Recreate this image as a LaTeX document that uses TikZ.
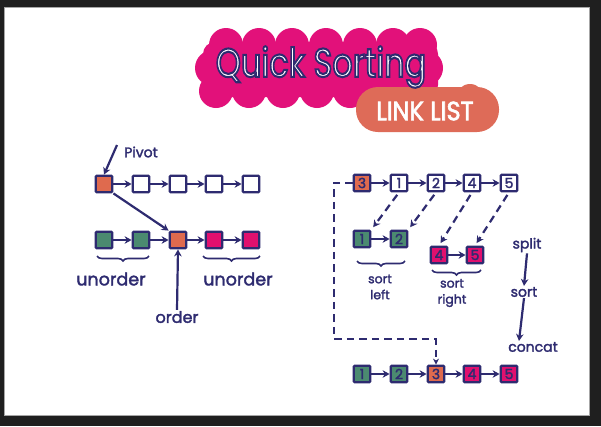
\documentclass[tikz,border=0pt]{standalone}
\usepackage{fontspec}
\newfontfamily\hand{Poppins}[FakeBold=2]
\newfontfamily\titlehand{Poppins}
\newfontfamily\subhand{Poppins}[FakeBold=2.5]
\usetikzlibrary{arrows.meta,decorations.pathreplacing,calc}
\definecolor{ink}{RGB}{46,43,112}
\definecolor{orangeC}{RGB}{223,106,78}
\definecolor{greenC}{RGB}{75,138,112}
\definecolor{magC}{RGB}{225,16,110}
\definecolor{titleM}{RGB}{226,17,122}
\definecolor{salmonC}{RGB}{222,107,88}
\definecolor{frameC}{RGB}{31,31,31}
\begin{document}
\begin{tikzpicture}[x=1pt,y=-1pt,
  box/.style={draw=ink,line width=2.3pt,minimum size=16.5pt,inner sep=0pt,rounded corners=1pt,
    font=\hand\fontsize{14}{14}\selectfont,text=ink},
  wbox/.style={box,fill=white},
  obox/.style={box,fill=orangeC},
  gbox/.style={box,fill=greenC},
  mbox/.style={box,fill=magC},
  link/.style={draw=ink,line width=2.2pt,-{Stealth[length=7pt,width=7.5pt]}},
  dlink/.style={link,dash pattern=on 7.5pt off 5pt},
  lbl/.style={text=ink,inner sep=1pt,font=\hand\fontsize{14}{14}\selectfont},
  biglbl/.style={lbl,font=\hand\fontsize{17.5}{17.5}\selectfont},
  smlbl/.style={lbl,align=center,font=\hand\fontsize{12.5}{16}\selectfont},
  brc/.style={draw=ink,line width=1.6pt,decorate,decoration={brace,mirror,amplitude=5pt}},
]
\useasboundingbox (0,0) rectangle (601,426);
% frame
\fill[frameC] (0,0) rectangle (601,426);
\fill[white,draw=gray!70,line width=0.6pt] (4,7) rectangle (589,415);

% title cloud
\begin{scope}[fill=titleM]
  \fill[rounded corners=12pt] (203,42) rectangle (438,97);
  \foreach \cx in {226,259,292,326,360,393,420} \fill (\cx,45) circle (17);
  \foreach \cx in {216,249,283,317,350,385,414} \fill (\cx,91) circle (17);
  \fill (213,68) circle (18);
  \fill (425,68) circle (18);
\end{scope}
\fill[salmonC,rounded corners=22pt] (356,87) rectangle (499,132);
\fill[salmonC] (470,98) circle (14);

\node[inner sep=0pt,text=white,xscale=1.03,yscale=1.3,font=\titlehand\fontsize{31}{31}\selectfont]
  (title) at (321,67) {\special{pdf:literal direct 2 Tr 1.6 w 0.18 0.17 0.44 RG}Quick Sorting\special{pdf:literal direct 0 Tr}};
\node[inner sep=0pt,text=white,yscale=1.1,font=\subhand\fontsize{24}{24}\selectfont] (sub) at (425,111) {LINK LIST};

% left diagram
\node[obox] (L1) at (104,184) {};
\node[wbox] (L2) at (141,184) {};
\node[wbox] (L3) at (178,184) {};
\node[wbox] (L4) at (214,184) {};
\node[wbox] (L5) at (251,184) {};
\node[gbox] (B1) at (104,240) {};
\node[gbox] (B2) at (141,240) {};
\node[obox] (B3) at (178,240) {};
\node[mbox] (B4) at (214,240) {};
\node[mbox] (B5) at (251,240) {};
\foreach \a/\b in {L1/L2,L2/L3,L3/L4,L4/L5,B1/B2,B2/B3,B3/B4,B4/B5} \draw[link] (\a) -- (\b);

\node[lbl] (pivot) at (141,152) {Pivot};
\coordinate (pvs) at (117,145);
\draw[link] (pvs) -- (L1.north);
\draw[link] (L1.south east) -- (B3.north west);

\draw[brc] (97,256) -- (149,256);
\draw[brc] (203,256) -- (260,256);
\node[biglbl] (un1) at (111,279) {unorder};
\node[biglbl] (un2) at (238,279) {unorder};
\node[lbl,font=\hand\fontsize{16}{16}\selectfont] (order) at (177,317) {order};
\draw[link] (order.north) -- (B3.south);

% right diagram
\node[obox] (R1) at (362,183) {3};
\node[wbox] (R2) at (399,183) {1};
\node[wbox] (R3) at (436,183) {2};
\node[wbox] (R4) at (472,183) {4};
\node[wbox] (R5) at (509,183) {5};
\foreach \a/\b in {R1/R2,R2/R3,R3/R4,R4/R5} \draw[link] (\a) -- (\b);

\node[gbox] (G1) at (362,239) {1};
\node[gbox] (G2) at (399,239) {2};
\node[mbox] (M4) at (439,255) {4};
\node[mbox] (M5) at (475,255) {5};
\draw[link] (G1) -- (G2);
\draw[link] (M4) -- (M5);

\draw[dlink,shorten <=3pt,shorten >=3pt] (R2.south) -- (G1.north east);
\draw[dlink,shorten <=3pt,shorten >=3pt] (R3.south) -- (G2.north east);
\draw[dlink,shorten <=3pt,shorten >=3pt] (R4.south) -- (M4.north);
\draw[dlink,shorten <=3pt,shorten >=3pt] (R5.south) -- (M5.north);

\draw[brc] (357,261) -- (405,261);
\draw[brc] (432,270) -- (481,270);
\node[smlbl] (sl) at (380,287) {sort\\left};
\node[smlbl] (sr) at (452,293) {sort\\right};

\node[lbl] (split) at (527,245) {split};
\node[lbl] (sort) at (524,292) {sort};
\node[lbl] (concat) at (533,347) {concat};
\draw[link] (split.south) -- (sort.north);
\draw[link] (sort.south) -- ([xshift=-14pt]concat.north);

\node[gbox] (F1) at (362,374) {1};
\node[gbox] (F2) at (399,374) {2};
\node[obox] (F3) at (436,374) {3};
\node[mbox] (F4) at (472,374) {4};
\node[mbox] (F5) at (509,374) {5};
\foreach \a/\b in {F1/F2,F2/F3,F3/F4,F4/F5} \draw[link] (\a) -- (\b);

\coordinate (dc) at (334,339);
\draw[dlink,line width=1.8pt,-{Stealth[length=6pt,width=6pt]}] (R1.west) -| (dc) -| (F3.north);
\end{tikzpicture}
\end{document}
